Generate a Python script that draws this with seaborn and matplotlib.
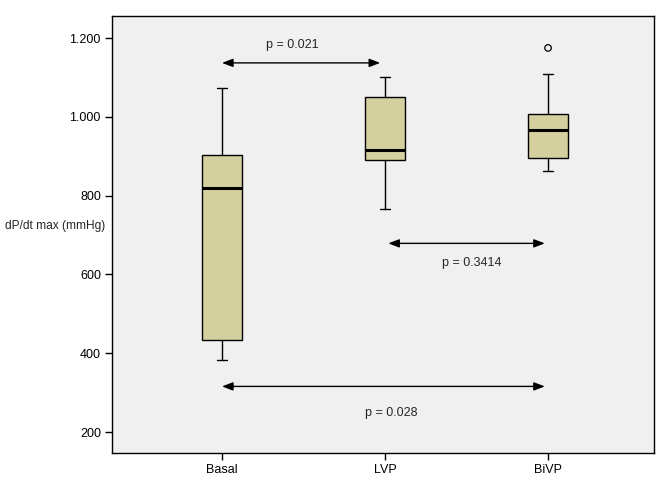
import numpy as np
import pandas as pd
import seaborn as sns
import matplotlib
matplotlib.use("Agg")
import matplotlib.pyplot as plt
from matplotlib.ticker import FuncFormatter

# %% data (five-number summaries per group)
groups = ["Basal", "LVP", "BiVP"]
basal = [383, 433, 820, 904, 1073]
lvp = [765, 891, 916, 1051, 1101]
bivp = [863, 896, 967, 1008, 1109]
bivp_outliers = [1175]

y_ticks = [200, 400, 600, 800, 1000, 1200]

# p-value arrows: (x start, x end, y of arrow, label, x of label, y of label)
p_pairs = [(0.0, 0.97, 1137, "p = 0.021", 0.43, 1182),
           (1.02, 1.98, 679, "p = 0.3414", 1.53, 628),
           (0.0, 1.98, 316, "p = 0.028", 1.04, 248)]

df = pd.DataFrame({"group": np.repeat(groups, 5),
                   "dpdt": basal + lvp + bivp})

# %% plot
sns.set_style("white")
plt.rcParams["font.family"] = ["Liberation Sans", "DejaVu Sans"]

fig = plt.figure(figsize=(6.64, 4.84), dpi=100)
ax = fig.add_axes([112/664, 31/484, 542/664, 437/484])
ax.set_facecolor("#f0f0f0")

sns.boxplot(data=df, x="group", y="dpdt", order=groups, ax=ax,
            color="#d4cf9e", saturation=1, width=0.245, whis=1.5,
            linecolor="black", linewidth=1,
            medianprops=dict(linewidth=2.2, color="black"),
            capwidths=0.065)

pos = {g: i for i, g in enumerate(groups)}
ax.scatter([pos["BiVP"]]*len(bivp_outliers), bivp_outliers, s=22,
           facecolors="none", edgecolors="black", linewidths=0.9, zorder=3)

for x0, x1, yv, lab, lx, ly in p_pairs:
    ax.annotate("", xy=(x1, yv), xytext=(x0, yv),
                arrowprops=dict(arrowstyle="<|-|>,head_length=0.65,head_width=0.25",
                                color="black", lw=1, shrinkA=0, shrinkB=0))
    ax.text(lx, ly, lab, ha="center", va="center", fontsize=9)

ax.set_xlim(-0.675, 2.65)
ax.set_ylim(147, 1256)
ax.set_yticks(y_ticks)
ax.yaxis.set_major_formatter(FuncFormatter(lambda v, p: f"{int(v):,}".replace(",", ".")))
ax.set_xlabel("")
ax.set_ylabel("")
ax.tick_params(axis="both", direction="out", length=5, width=1, labelsize=9,
               left=True, bottom=True, color="black", labelcolor="black", pad=3)
for s in ax.spines.values():
    s.set_color("black")
    s.set_linewidth(1)

fig.text(5/664, 1 - 226/484, "dP/dt max (mmHg)", ha="left", va="center", fontsize=8.6)

fig.savefig("out.png", dpi=100, facecolor="white")
